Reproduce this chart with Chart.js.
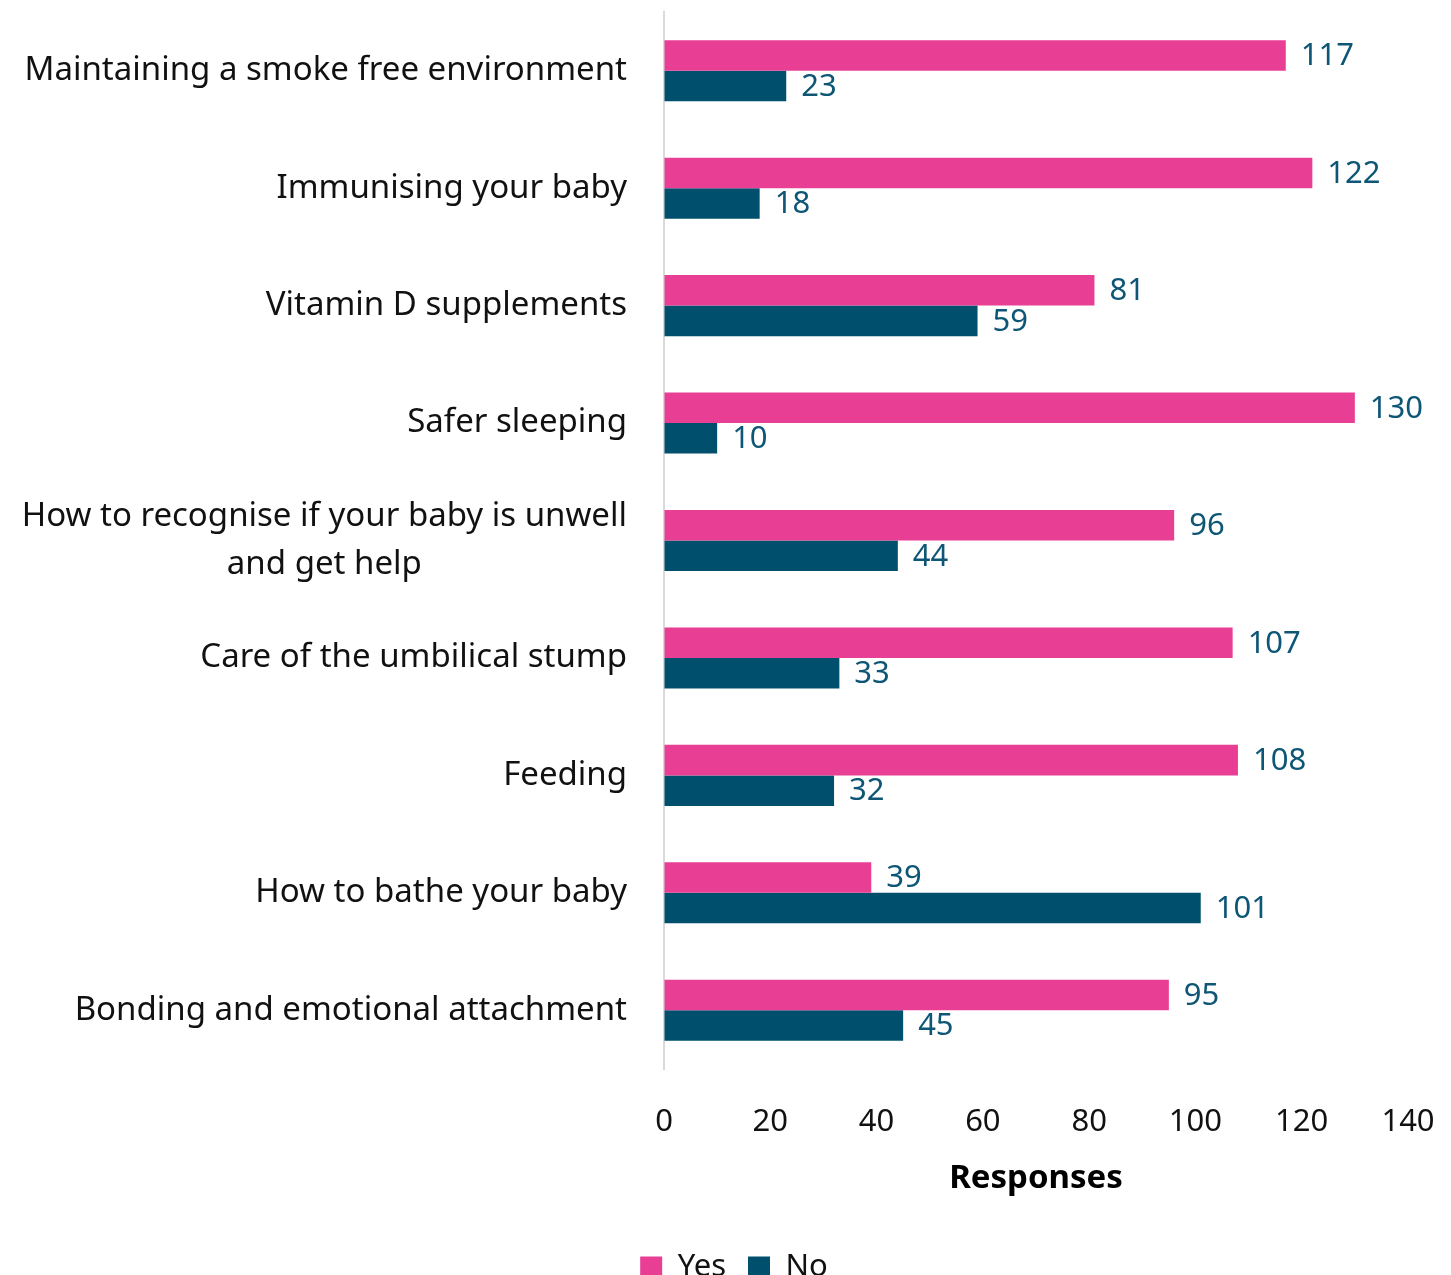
<!DOCTYPE html>
<html>
<head>
<meta charset="utf-8">
<script src="https://cdn.jsdelivr.net/npm/chart.js@4.4.1/dist/chart.umd.min.js"></script>
<style>
  html, body { margin: 0; padding: 0; background: #fff; }
  #wrap { width: 1451px; height: 1275px; }
</style>
</head>
<body>
<div id="wrap"><canvas id="chart"></canvas></div>
<script>
// topics asked about, top to bottom
const categories = [
    "Maintaining a smoke free environment",
    "Immunising your baby",
    "Vitamin D supplements",
    "Safer sleeping",
    ["How to recognise if your baby is unwell", "and get help"],
    "Care of the umbilical stump",
    "Feeding",
    "How to bathe your baby",
    "Bonding and emotional attachment"
];
const yesValues = [117, 122, 81, 130, 96, 107, 108, 39, 95];
const noValues = [23, 18, 59, 10, 44, 33, 32, 101, 45];
const xTicks = [0, 20, 40, 60, 80, 100, 120, 140];

const PINK = "#E83E94";
const TEAL = "#00506D";
const LABEL_TEAL = "#0E5675";
const FONT = "'Noto Sans', sans-serif";

//value labels at the end of each bar
const valueLabels = {
    id: "valueLabels",
    afterDatasetsDraw(chart){
        const ctx = chart.ctx;
        ctx.save();
        ctx.font = "31px " + FONT;
        ctx.fillStyle = LABEL_TEAL;
        ctx.textAlign = "left";
        ctx.textBaseline = "middle";
        chart.data.datasets.forEach((ds, i) => {
            chart.getDatasetMeta(i).data.forEach((bar, j) => {
                ctx.fillText(String(ds.data[j]), bar.x + 15, bar.y + 1);
            });
        });
        ctx.restore();
    }
};

//category labels: right aligned, wrapped lines centred on each other
const categoryLabels = {
    id: "categoryLabels",
    afterDraw(chart){
        const ctx = chart.ctx;
        const yScale = chart.scales.y;
        const right = chart.chartArea.left - 37;
        const lineHeight = 48;
        ctx.save();
        ctx.font = "33px " + FONT;
        ctx.fillStyle = "#111";
        ctx.textBaseline = "middle";
        categories.forEach((label, i) => {
            const y = yScale.getPixelForTick(i);
            const lines = Array.isArray(label) ? label : [label];
            const widest = Math.max(...lines.map(l => ctx.measureText(l).width));
            const top = y - (lines.length - 1) * lineHeight / 2;
            lines.forEach((line, k) => {
                if(lines.length > 1){
                    ctx.textAlign = "center";
                    ctx.fillText(line, right - widest / 2, top + k * lineHeight);
                } else {
                    ctx.textAlign = "right";
                    ctx.fillText(line, right, top);
                }
            });
        });
        ctx.restore();
    }
};

const data = {
    labels: categories,
    datasets: [
        {
            label: "Yes",
            data: yesValues,
            backgroundColor: PINK,
            categoryPercentage: 0.52,
            barPercentage: 1.0
        },
        {
            label: "No",
            data: noValues,
            backgroundColor: TEAL,
            categoryPercentage: 0.52,
            barPercentage: 1.0
        }
    ]
};

const options = {
    indexAxis: "y",
    responsive: true,
    maintainAspectRatio: false,
    animation: false,
    layout: {
        // left padding also nudges the centred legend to the right
        padding: { top: 12, right: 43, left: 60, bottom: -18 }
    },
    plugins: {
        legend: {
            position: "bottom",
            labels: {
                color: "#111",
                font: { family: FONT, size: 31 },
                boxWidth: 22,
                boxHeight: 22,
                padding: 22
            }
        },
        tooltip: { enabled: false }
    },
    scales: {
        x: {
            min: 0,
            max: 140,
            afterBuildTicks: (scale) => {
                scale.ticks = xTicks.map(v => ({ value: v }));
            },
            afterFit: (scale) => { scale.height = 161; },
            // invisible tick marks push the labels down without widening the axis
            grid: { display: true, drawOnChartArea: false, drawTicks: true, tickLength: 35, color: "rgba(0,0,0,0)" },
            border: { display: false },
            ticks: {
                color: "#111",
                font: { family: FONT, size: 31 },
                padding: 0,
                maxRotation: 0
            },
            title: {
                display: true,
                text: "Responses",
                color: "#000",
                font: { family: FONT, size: 33, weight: "bold" },
                padding: { top: 0, bottom: 32 }
            }
        },
        y: {
            afterFit: (scale) => { scale.width = 604; },
            grid: { display: true, drawOnChartArea: false, drawTicks: false },
            border: { display: true, color: "#D9D9D9", width: 2 },
            ticks: { display: false }
        }
    }
};

new Chart(document.getElementById("chart").getContext("2d"), {
    type: "bar",
    data,
    options,
    plugins: [valueLabels, categoryLabels]
});
</script>
</body>
</html>
